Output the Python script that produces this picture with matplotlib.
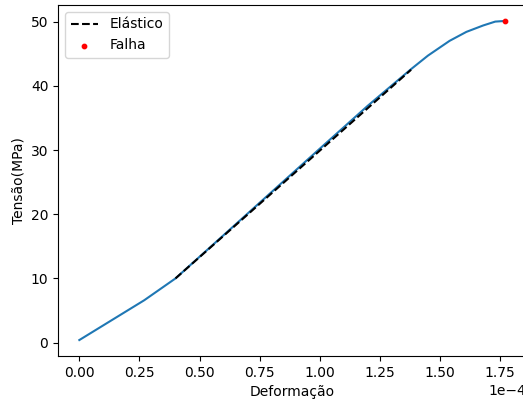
import matplotlib
matplotlib.use("Agg")
import matplotlib.pyplot as plt
import numpy as np

# curva tensão x deformação (deformação em 1e-4)
deformacao = np.array([0.0, 0.27, 0.40, 0.70, 1.00, 1.20, 1.38, 1.45, 1.54, 1.61, 1.68, 1.73, 1.77]) * 1e-4
tensao = np.array([0.4, 6.6, 10.0, 20.1, 30.2, 36.9, 42.6, 44.7, 47.0, 48.4, 49.4, 50.0, 50.1])

# reta elástica
elast_x = np.array([0.40, 1.38]) * 1e-4
elast_y = np.array([10.0, 42.5])

# ponto de falha
falha_x = [1.77e-4]
falha_y = [50.1]

fig = plt.figure(figsize=(5.23, 4.0), dpi=100)
ax = fig.add_axes([0.111, 0.11, 0.895, 0.8775])

ax.plot(deformacao, tensao)
ax.plot(elast_x, elast_y, 'k--', label='Elástico')
ax.scatter(falha_x, falha_y, color='red', s=10, label='Falha', zorder=3)

ax.ticklabel_format(style='sci', axis='x', scilimits=(0, 0))
ax.set_xlabel('Deformação')
ax.set_ylabel('Tensão(MPa)')
ax.legend(loc='upper left')

fig.savefig('out.png', dpi=100)
